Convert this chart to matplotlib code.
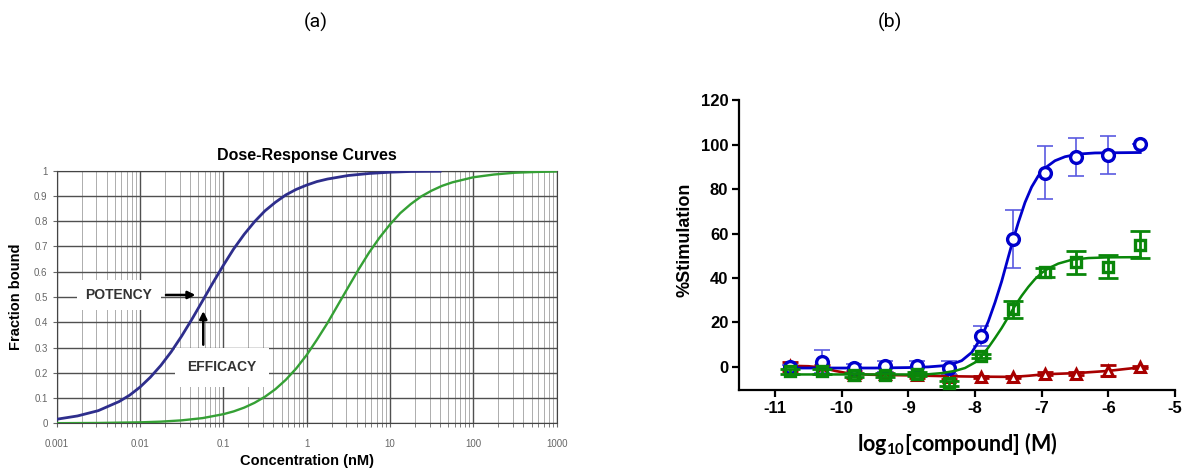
import matplotlib
matplotlib.use("Agg")
import matplotlib.pyplot as plt
from matplotlib.ticker import NullFormatter, LogLocator

plt.rcParams['font.family'] = ['Liberation Sans', 'DejaVu Sans']
plt.rcParams['axes.unicode_minus'] = False
plt.rcParams['mathtext.fontset'] = 'custom'
plt.rcParams['mathtext.rm'] = 'Lato'
plt.rcParams['mathtext.bf'] = 'Lato:bold'

# ---- panel (a): dose-response curves ----
conc_blue = [0.001, 0.00178, 0.00316, 0.00562, 0.0075, 0.01, 0.0133, 0.0178, 0.0237,
             0.0316, 0.0422, 0.0562, 0.075, 0.1, 0.133, 0.178, 0.237, 0.316, 0.422,
             0.562, 0.75, 1.0, 1.33, 1.78, 3.16, 5.62, 10.0, 17.8, 40.0]
frac_blue = [0.016, 0.029, 0.050, 0.086, 0.111, 0.143, 0.182, 0.229, 0.283,
             0.345, 0.413, 0.484, 0.556, 0.625, 0.690, 0.748, 0.798, 0.841, 0.875,
             0.904, 0.926, 0.943, 0.957, 0.967, 0.981, 0.989, 0.994, 0.997, 0.998]
conc_green = [0.001, 0.00316, 0.01, 0.0178, 0.0316, 0.0562, 0.1, 0.133, 0.178, 0.237,
              0.316, 0.422, 0.562, 0.75, 1.0, 1.33, 1.78, 2.37, 3.16, 4.22, 5.62, 7.5,
              10.0, 13.3, 17.8, 23.7, 31.6, 42.2, 56.2, 100.0, 178.0, 316.0, 562.0, 1000.0]
frac_green = [0.0004, 0.0012, 0.0037, 0.0065, 0.0116, 0.0204, 0.036, 0.047, 0.062, 0.081,
              0.105, 0.135, 0.172, 0.217, 0.270, 0.331, 0.397, 0.468, 0.539, 0.610, 0.676, 0.735,
              0.787, 0.832, 0.868, 0.898, 0.921, 0.940, 0.954, 0.974, 0.985, 0.992, 0.995, 0.997]
conc_ticks = [0.001, 0.01, 0.1, 1, 10, 100, 1000]
conc_labels = ['0.001', '0.01', '0.1', '1', '10', '100', '1000']
frac_ticks = [0, 0.1, 0.2, 0.3, 0.4, 0.5, 0.6, 0.7, 0.8, 0.9, 1.0]
frac_labels = ['0', '0.1', '0.2', '0.3', '0.4', '0.5', '0.6', '0.7', '0.8', '0.9', '1']

# ---- panel (b): %stimulation vs log10 concentration ----
log_conc = [-10.78, -10.30, -9.82, -9.35, -8.87, -8.39, -7.91, -7.43, -6.95, -6.48, -6.00, -5.52]
blue_y = [0.0, 2.4, -0.7, 0.3, 0.3, -0.3, 13.7, 57.5, 87.5, 94.5, 95.5, 100.5]
blue_err = [1.0, 5.0, 2.0, 2.5, 2.5, 3.0, 4.5, 13.0, 12.0, 8.5, 8.5, 0.0]
green_y = [-2.0, -2.0, -3.7, -3.7, -3.3, -7.4, 4.8, 26.0, 42.5, 47.0, 45.0, 55.0]
green_err = [1.0, 1.0, 1.0, 1.0, 1.0, 1.0, 1.0, 3.8, 2.0, 5.2, 5.2, 6.2]
red_y = [0.3, -1.0, -3.5, -3.3, -3.8, -4.5, -4.7, -4.7, -3.0, -3.0, -1.8, 0.0]
red_err = [2.0, 2.0, 1.5, 1.0, 1.0, 1.0, 0.5, 0.5, 0.5, 0.5, 2.5, 0.5]

blue_fit_x = [-10.78, -9.5, -9.0, -8.7, -8.4, -8.2, -8.05, -7.9, -7.8, -7.7, -7.6, -7.5,
              -7.43, -7.35, -7.25, -7.15, -7.05, -6.95, -6.8, -6.65, -6.45, -6.2, -5.52]
blue_fit_y = [-0.5, -0.5, -0.3, 0.0, 0.7, 2.8, 6.5, 13.5, 20.5, 29.0, 38.5, 49.5,
              57.0, 65.0, 74.0, 81.0, 86.0, 89.5, 92.8, 94.6, 95.8, 96.3, 96.5]
green_fit_x = [-10.78, -9.0, -8.7, -8.5, -8.3, -8.15, -8.0, -7.9, -7.8, -7.7, -7.6, -7.5,
               -7.4, -7.3, -7.2, -7.1, -7.0, -6.9, -6.75, -6.55, -6.3, -6.0, -5.52]
green_fit_y = [-3.4, -3.4, -3.3, -2.8, -1.8, -0.5, 2.0, 5.0, 8.7, 13.0, 17.5, 22.5,
               27.5, 32.0, 36.0, 39.5, 42.3, 44.3, 46.5, 48.2, 49.0, 49.3, 49.4]
red_fit_x = [-10.78, -10.5, -10.3, -10.1, -9.9, -9.6, -9.0, -8.4, -7.9, -7.43, -7.2,
             -6.95, -6.48, -6.0, -5.52]
red_fit_y = [0.5, 0.3, -0.3, -1.8, -2.9, -3.5, -3.8, -4.2, -4.4, -4.5, -4.0,
             -3.3, -2.8, -1.8, -0.2]

fig = plt.figure(figsize=(11.85, 4.7), dpi=100)

# panel labels
fig.text(316 / 1185, 1 - 22 / 470, '(a)', fontsize=14, family='Roboto', ha='center', va='center')
fig.text(890 / 1185, 1 - 22 / 470, '(b)', fontsize=14, family='Roboto', ha='center', va='center')

# ---------------- (a) ----------------
ax1 = fig.add_axes([0.0478, 0.0994, 0.4219, 0.5374])
ax1.set_xscale('log')
ax1.plot(conc_blue, frac_blue, color='#2e2e8c', linewidth=2.0, zorder=3)
ax1.plot(conc_green, frac_green, color='#35a035', linewidth=1.7, zorder=3)
ax1.set_xlim(0.001, 1000)
ax1.set_ylim(0, 1)
ax1.set_xticks(conc_ticks)
ax1.set_xticklabels(conc_labels)
ax1.xaxis.set_minor_locator(LogLocator(base=10, subs=range(2, 10)))
ax1.xaxis.set_minor_formatter(NullFormatter())
ax1.set_yticks(frac_ticks)
ax1.set_yticklabels(frac_labels)
ax1.grid(True, which='major', color='#505050', linewidth=1.0)
ax1.grid(True, which='minor', axis='x', color='#a0a0a0', linewidth=0.6)
ax1.set_axisbelow(True)
ax1.tick_params(which='both', labelsize=7, labelcolor='#666666', color='#666666', length=3)
ax1.tick_params(axis='x', pad=8)
for s in ax1.spines.values():
    s.set_color('#444444')
ax1.set_title('Dose-Response Curves', fontsize=11.5, fontweight='bold', pad=8)
ax1.set_xlabel('Concentration (nM)', fontsize=10.5, fontweight='bold', labelpad=4)
ax1.set_ylabel('Fraction bound', fontsize=10.5, fontweight='bold', labelpad=8)

ax1.annotate('', xy=(0.05, 0.508), xytext=(0.019, 0.508),
             arrowprops=dict(arrowstyle='-|>', color='black', lw=1.8, mutation_scale=11), zorder=5)
ax1.text(0.0056, 0.508, 'POTENCY', fontsize=10, fontweight='bold', color='#333333',
         ha='center', va='center', bbox=dict(facecolor='white', edgecolor='none', pad=6), zorder=4)
ax1.annotate('', xy=(0.0575, 0.455), xytext=(0.0575, 0.30),
             arrowprops=dict(arrowstyle='-|>', color='black', lw=1.8, mutation_scale=11), zorder=5)
ax1.text(0.0955, 0.222, 'EFFICACY', fontsize=10, fontweight='bold', color='#333333',
         ha='center', va='center', bbox=dict(facecolor='white', edgecolor='none', pad=9), zorder=4)

# ---------------- (b) ----------------
ax2 = fig.add_axes([0.624, 0.1702, 0.3675, 0.6164])
blue = '#0000cc'
green = '#0a870a'
red = '#a80000'

ax2.plot(red_fit_x, red_fit_y, color=red, linewidth=1.9, zorder=2)
ax2.errorbar(log_conc, red_y, yerr=red_err, fmt='none', ecolor=red, elinewidth=2,
             capsize=6, capthick=2, zorder=2)
ax2.plot(log_conc, red_y, linestyle='none', marker='^', markersize=7.5, mfc='white',
         mec=red, mew=2.2, zorder=2.5)

ax2.errorbar(log_conc, blue_y, yerr=blue_err, fmt='none', ecolor='#5a5ae0', elinewidth=1.2,
             capsize=6, capthick=1.2, zorder=3)
ax2.plot(blue_fit_x, blue_fit_y, color=blue, linewidth=2.0, zorder=3)
ax2.plot(log_conc, blue_y, linestyle='none', marker='o', markersize=8.5, mfc='white',
         mec=blue, mew=2.4, zorder=3.5)

ax2.errorbar(log_conc, green_y, yerr=green_err, fmt='none', ecolor=green, elinewidth=2,
             capsize=7, capthick=2, zorder=4)
ax2.plot(green_fit_x, green_fit_y, color=green, linewidth=1.8, zorder=4)
ax2.plot(log_conc, green_y, linestyle='none', marker='s', markersize=7.5, mfc='none',
         mec=green, mew=2.4, zorder=4.5)

ax2.set_xlim(-11.535, -5)
ax2.set_ylim(-10.4, 120)
ax2.set_xticks([-11, -10, -9, -8, -7, -6, -5])
ax2.set_yticks([0, 20, 40, 60, 80, 100, 120])
ax2.spines['top'].set_visible(False)
ax2.spines['right'].set_visible(False)
ax2.spines['left'].set_linewidth(1.6)
ax2.spines['bottom'].set_linewidth(1.6)
ax2.tick_params(direction='out', length=5, width=1.6, labelsize=12, pad=3)
for lab in ax2.get_xticklabels() + ax2.get_yticklabels():
    lab.set_fontweight('bold')
ax2.set_ylabel('%Stimulation', fontsize=13, fontweight='bold')
ax2.yaxis.set_label_coords(-0.105, 0.52)
ax2.set_xlabel(r'log$_{\mathbf{10}}$[compound] (M)', fontsize=15.5, fontweight='bold',
               family='Lato', labelpad=10)

fig.savefig('out.png', dpi=100)
